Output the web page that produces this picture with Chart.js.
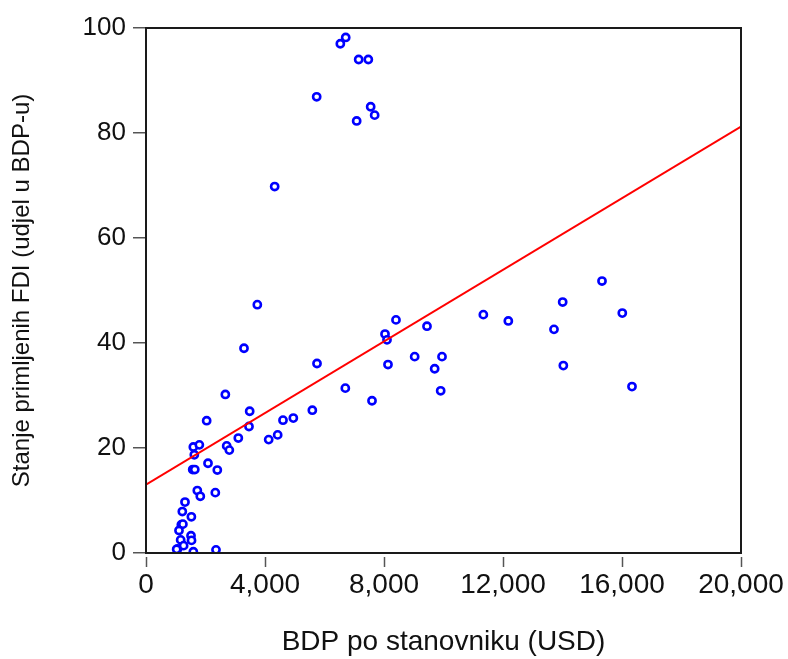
<!DOCTYPE html>
<html>
<head>
<meta charset="utf-8">
<script src="https://cdn.jsdelivr.net/npm/chart.js@4/dist/chart.umd.min.js"></script>
<style>
    html, body { margin: 0; padding: 0; background: #fff; }
    #wrap { width: 788px; height: 659px; }
</style>
</head>
<body>
<div id="wrap"><canvas id="fdiChart" width="788" height="659"></canvas></div>
<script>
// BDP po stanovniku (USD)
const gdpPerCapita = [
    6713, 6532, 7149, 7473, 5737, 7552, 7686, 7081, 4325, 3742,
    3294, 5748, 2667, 3485, 2039, 3462, 4605, 4952, 5591, 3103,
    4124, 4426, 2712, 2801, 1591, 1793, 1624, 1570, 1640, 2084,
    2397, 1725, 2330, 1825, 1311, 1221, 1525, 1188, 1240, 1109,
    1165, 1513, 1530, 1064, 1031, 1265, 1591, 2353, 6700, 7597,
    8134, 8034, 8101, 8403, 9031, 9445, 9703, 9950, 9905, 11339,
    12179, 14006, 13714, 14028, 15328, 16010, 16336
];
// Stanje primljenih FDI (udjel u BDP-u)
const fdiStock = [
    98.2, 97.0, 94.0, 94.0, 86.9, 85.0, 83.4, 82.3, 69.8, 47.3,
    39.0, 36.1, 30.2, 27.0, 25.2, 24.1, 25.3, 25.7, 27.2, 21.9,
    21.6, 22.5, 20.4, 19.6, 20.2, 20.6, 18.7, 15.9, 15.9, 17.1,
    15.8, 11.9, 11.5, 10.8, 9.7, 7.9, 6.9, 5.4, 5.5, 4.3,
    2.5, 3.3, 2.4, 0.8, 0.7, 1.4, 0.25, 0.6, 31.4, 29.0,
    35.9, 41.7, 40.6, 44.4, 37.4, 43.2, 35.1, 37.4, 30.9, 45.4,
    44.2, 47.8, 42.6, 35.7, 51.8, 45.7, 31.7
];
// regression line end points
const fitX = [0, 20000];
const fitY = [13.0, 81.2];

const xTicks = [0, 4000, 8000, 12000, 16000, 20000];
const yTicks = [0, 20, 40, 60, 80, 100];

const scatterPoints = gdpPerCapita.map((x, i) => ({ x: x, y: fdiStock[i] }));
const fitPoints = fitX.map((x, i) => ({ x: x, y: fitY[i] }));

// frame around the plot and x tick marks set a little below it
const framePlugin = {
    id: 'frame',
    afterDraw(chart) {
        const { ctx, chartArea, scales } = chart;
        ctx.save();
        ctx.strokeStyle = '#1a1a1a';
        ctx.lineWidth = 2;
        ctx.strokeRect(chartArea.left, chartArea.top,
            chartArea.right - chartArea.left, chartArea.bottom - chartArea.top);
        ctx.strokeStyle = '#555';
        ctx.lineWidth = 1.5;
        xTicks.forEach(v => {
            const px = Math.round(scales.x.getPixelForValue(v)) + 0.5;
            ctx.beginPath();
            ctx.moveTo(px, chartArea.bottom + 4);
            ctx.lineTo(px, chartArea.bottom + 14);
            ctx.stroke();
        });
        ctx.restore();
    }
};

const labelFont = '"Liberation Sans", Arial, sans-serif';

new Chart(document.getElementById('fdiChart'), {
    type: 'scatter',
    data: {
        datasets: [
            {
                label: 'FDI',
                data: scatterPoints,
                pointStyle: 'circle',
                pointRadius: 3.6,
                borderWidth: 2.6,
                pointBorderWidth: 2.6,
                borderColor: '#0000ff',
                backgroundColor: '#ffffff',
                pointHoverRadius: 3.6,
                order: 2
            },
            {
                type: 'line',
                label: 'Trend',
                data: fitPoints,
                borderColor: '#ff0000',
                borderWidth: 2,
                pointRadius: 0,
                fill: false,
                order: 1
            }
        ]
    },
    options: {
        responsive: false,
        animation: false,
        layout: { padding: { top: 28, right: 47, left: 4, bottom: 0 } },
        plugins: {
            legend: { display: false },
            tooltip: { enabled: false }
        },
        scales: {
            x: {
                type: 'linear',
                min: 0,
                max: 20000,
                afterBuildTicks: scale => { scale.ticks = xTicks.map(v => ({ value: v })); },
                afterFit: scale => { scale.height = 106; },
                border: { display: false },
                grid: { drawOnChartArea: false, drawTicks: true, tickLength: 14, color: 'rgba(0,0,0,0)' },
                ticks: {
                    color: '#111',
                    padding: 1,
                    maxRotation: 0,
                    font: { family: labelFont, size: 28 },
                    callback: v => Number(v).toLocaleString('en-US')
                },
                title: {
                    display: true,
                    text: 'BDP po stanovniku (USD)',
                    color: '#111',
                    padding: { top: 34, bottom: 0 },
                    font: { family: labelFont, size: 28 }
                }
            },
            y: {
                type: 'linear',
                min: 0,
                max: 100,
                afterBuildTicks: scale => { scale.ticks = yTicks.map(v => ({ value: v })); },
                afterFit: scale => { scale.width = 142; },
                border: { display: false },
                grid: { drawOnChartArea: false, drawTicks: true, tickLength: 13, color: '#555', lineWidth: 1.5 },
                ticks: {
                    color: '#111',
                    padding: 7,
                    font: { family: labelFont, size: 26 }
                },
                title: {
                    display: true,
                    text: 'Stanje primljenih FDI (udjel u BDP-u)',
                    color: '#111',
                    padding: { top: 4, bottom: 0 },
                    font: { family: labelFont, size: 24 }
                }
            }
        }
    },
    plugins: [framePlugin]
});
</script>
</body>
</html>
